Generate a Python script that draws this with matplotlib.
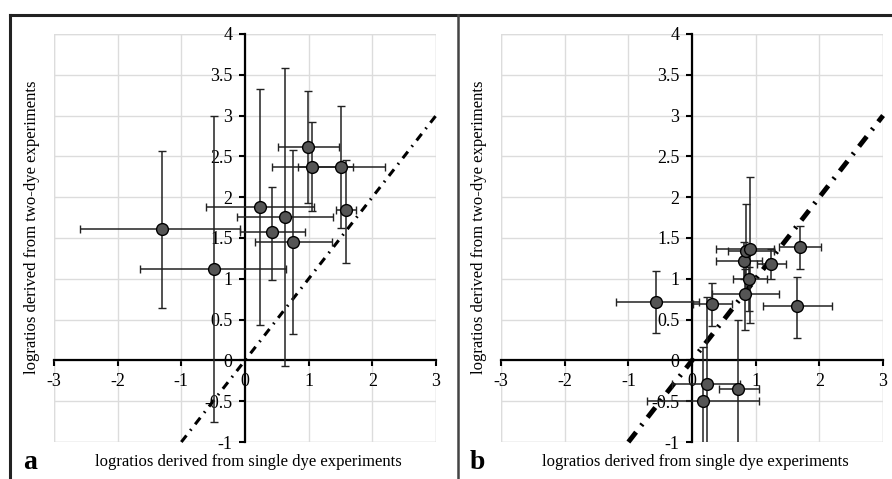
import matplotlib
matplotlib.use("Agg")
import matplotlib.pyplot as plt
from matplotlib.lines import Line2D
import numpy as np

# panel a: single dye logratio (x) vs two-dye logratio (y), error bar ends
a_x = [-1.30, -0.49, 0.23, 0.43, 0.63, 0.76, 0.99, 1.06, 1.51, 1.58]
a_y = [1.605, 1.12, 1.88, 1.57, 1.76, 1.45, 2.62, 2.37, 2.37, 1.84]
a_x_lo = [-2.59, -1.65, -0.62, -0.08, -0.12, 0.16, 0.52, 0.42, 0.84, 1.43]
a_x_hi = [-0.08, 0.65, 1.09, 0.95, 1.39, 1.37, 1.47, 1.69, 2.20, 1.74]
a_y_lo = [0.64, -0.76, 0.43, 0.99, -0.07, 0.32, 1.93, 1.83, 1.62, 1.19]
a_y_hi = [2.565, 3.00, 3.32, 2.13, 3.58, 2.58, 3.30, 2.92, 3.12, 2.46]

# panel b
b_x = [-0.56, 0.32, 0.83, 0.90, 0.82, 0.85, 0.915, 1.24, 1.69, 1.65, 0.23, 0.17, 0.72]
b_y = [0.71, 0.69, 0.81, 1.00, 1.22, 1.34, 1.36, 1.18, 1.39, 0.665, -0.29, -0.50, -0.355]
b_x_lo = [-1.19, 0.01, 0.31, 0.64, 0.38, 0.57, 0.38, 1.02, 1.36, 1.12, -0.32, -0.70, 0.42]
b_x_hi = [0.11, 0.62, 1.36, 1.18, 1.10, 1.29, 1.29, 1.48, 2.03, 2.19, 0.76, 1.05, 1.05]
b_y_lo = [0.34, 0.42, 0.37, 0.60, 1.00, 0.85, 0.46, 1.00, 1.12, 0.28, -1.6, -1.6, -1.6]
b_y_hi = [1.09, 0.95, 1.12, 1.14, 1.45, 1.92, 2.25, 1.36, 1.65, 1.02, 0.78, 0.17, 0.49]

ref_line = [-1, 3]

xlabel = "logratios derived from single dye experiments"
ylabel = "logratios derived from two-dye experiments"

plt.rcParams['font.family'] = ['Liberation Serif', 'DejaVu Serif']

fig = plt.figure(figsize=(8.92, 4.79), dpi=100)


def draw_panel(ax, x, y, xlo, xhi, ylo, yhi, ref_lw, dash_pt, letter):
    x = np.array(x); y = np.array(y)
    xerr = [x - np.array(xlo), np.array(xhi) - x]
    yerr = [y - np.array(ylo), np.array(yhi) - y]

    ax.set_xlim(-3, 3)
    ax.set_ylim(-1, 4)
    ax.set_xticks(range(-3, 4))
    ax.set_yticks(np.arange(-1, 4.01, 0.5))
    ax.set_xticklabels([str(v) for v in range(-3, 4)])
    ax.set_yticklabels(['-1', '-0.5', '0', '0.5', '1', '1.5', '2', '2.5', '3', '3.5', '4'])
    ax.grid(True, color='#dcdcdc', lw=1)
    ax.set_axisbelow(True)

    for s in ['top', 'right']:
        ax.spines[s].set_visible(False)
    ax.spines['left'].set_position(('data', 0))
    ax.spines['bottom'].set_position(('data', 0))
    ax.spines['left'].set_linewidth(1.6)
    ax.spines['bottom'].set_linewidth(1.6)
    ax.tick_params(axis='both', direction='out', length=4, width=1.5,
                   labelsize=13, color='black', pad=5)

    # light frame box from outer gridlines
    for xv in [-3, 3]:
        ax.axvline(xv, color='#dcdcdc', lw=1, zorder=0)
    ax.axhline(4, color='#dcdcdc', lw=1, zorder=0)
    ax.axhline(-1, color='#dcdcdc', lw=1, zorder=0)

    # y = x reference, dash-dot
    ax.plot(ref_line, ref_line, color='black', lw=ref_lw,
            dashes=[d / ref_lw for d in dash_pt], zorder=2, clip_on=False)

    ax.errorbar(x, y, xerr=xerr, yerr=yerr, fmt='o', color='black',
                ecolor='#222222', elinewidth=1.1, capsize=3, capthick=1.1,
                markersize=8.5, markerfacecolor='#555555',
                markeredgecolor='black', markeredgewidth=1, zorder=3)

    pos = ax.get_position()
    fig.text(pos.x0 + pos.width * 0.5 + 0.004, 0.035, xlabel,
             ha='center', va='center', fontsize=12)
    fig.text(pos.x0 - 0.025, 1 - 227 / 479, ylabel,
             ha='center', va='center', rotation=90, fontsize=12)
    fig.text(pos.x0 - 0.035, 0.035, letter, ha='left', va='center',
             fontsize=20, fontweight='bold')


ax_a = fig.add_axes([0.0605, 0.0772, 0.4283, 0.852])
ax_b = fig.add_axes([0.5617, 0.0772, 0.4283, 0.852])

draw_panel(ax_a, a_x, a_y, a_x_lo, a_x_hi, a_y_lo, a_y_hi, 2.2,
           (6.0, 4.5, 1.2, 4.5), 'a')
draw_panel(ax_b, b_x, b_y, b_x_lo, b_x_hi, b_y_lo, b_y_hi, 3.5,
           (9.0, 6.0, 1.5, 6.0), 'b')

# outer frame lines
top = 1 - 15 / 479
fig.add_artist(Line2D([10 / 892, 1.0], [top, top], color='#222222', lw=2.2))
fig.add_artist(Line2D([10 / 892, 10 / 892], [0, top], color='#222222', lw=2.2))
fig.add_artist(Line2D([458 / 892, 458 / 892], [0, top], color='#444444', lw=1.8))

fig.savefig('out.png', dpi=100)
